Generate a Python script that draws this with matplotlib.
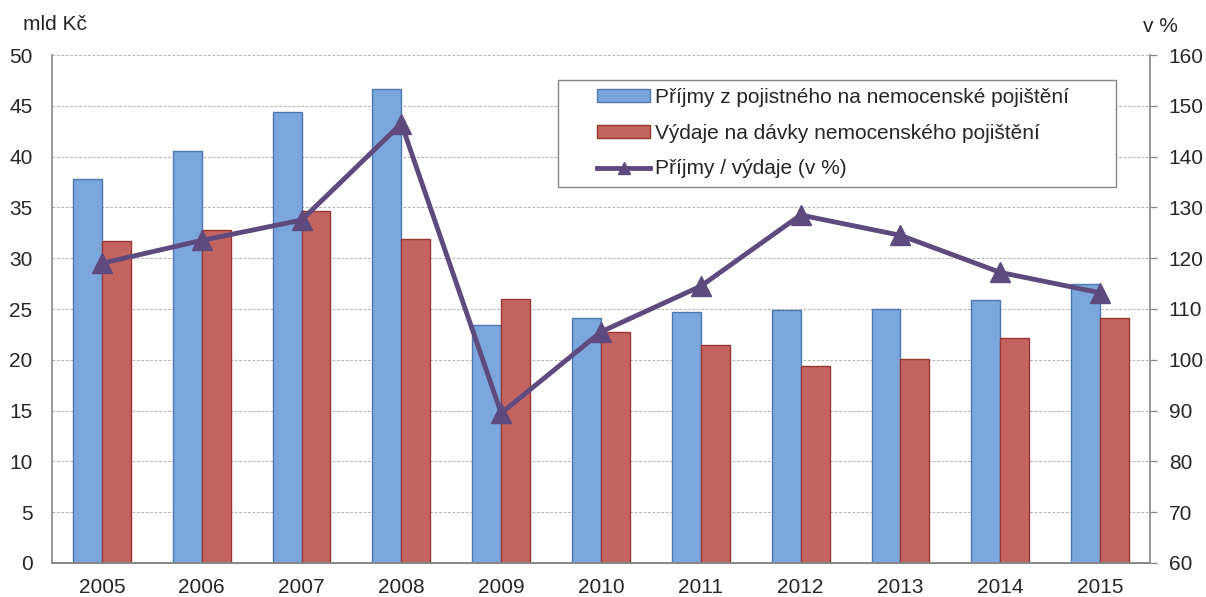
import matplotlib
matplotlib.use("Agg")
import matplotlib.pyplot as plt
from matplotlib.patches import Rectangle
import numpy as np

plt.rcParams['font.family'] = ['Liberation Sans', 'DejaVu Sans']

years = ["2005", "2006", "2007", "2008", "2009", "2010", "2011", "2012", "2013", "2014", "2015"]
prijmy = [37.8, 40.6, 44.4, 46.7, 23.4, 24.1, 24.7, 24.9, 25.0, 25.9, 27.5]
vydaje = [31.7, 32.8, 34.6, 31.9, 26.0, 22.7, 21.5, 19.4, 20.1, 22.1, 24.1]
pomer = [119.0, 123.5, 127.5, 146.5, 89.5, 105.5, 114.5, 128.5, 124.5, 117.2, 113.2]

label_p = "Příjmy z pojistného na nemocenské pojištění"
label_v = "Výdaje na dávky nemocenského pojištění"
label_r = "Příjmy / výdaje (v %)"

W, H = 1206, 597
fig = plt.figure(figsize=(W/100, H/100), dpi=100)
ax = fig.add_axes([52/W, 1-563/H, (1150-52)/W, (563-55)/H])
ax2 = ax.twinx()

x = np.arange(len(years))
w = 0.29
gray = "#868686"
txt = "#262626"
fs = 15
b1 = ax.bar(x - w/2, prijmy, w, color="#7CA7DC", edgecolor="#4C78B0", linewidth=1.0, label=label_p, zorder=2)
b2 = ax.bar(x + w/2, vydaje, w, color="#C46461", edgecolor="#9A3735", linewidth=1.0, label=label_v, zorder=2)
ln, = ax2.plot(x, pomer, color="#5F4A7F", linewidth=3.5, marker="^", markersize=15, label=label_r, zorder=3)

ax.set_xlim(-0.5, len(years) - 0.5)
ax.set_ylim(0, 50)
ax.set_yticks(np.arange(0, 51, 5))
ax2.set_ylim(60, 160)
ax2.set_yticks(np.arange(60, 161, 10))
ax.set_xticks(x)
ax.set_xticklabels(years)

ax.yaxis.grid(True, linestyle=(0, (2.5, 1.5)), color="#B8B8B8", linewidth=0.8)
ax.set_axisbelow(True)

for a in (ax, ax2):
    a.spines['top'].set_visible(False)
    for s in ('left', 'right', 'bottom'):
        a.spines[s].set_color(gray)
        a.spines[s].set_linewidth(1.2)
    a.tick_params(colors=txt, labelsize=fs, color=gray, width=0.9)
ax.tick_params(axis='x', length=0, pad=11)
ax.tick_params(axis='y', length=0, pad=14)
ax2.tick_params(axis='y', length=5, pad=8.5)
ax2.spines['left'].set_visible(False)
ax.spines['right'].set_visible(False)

fig.text(23/W, 1-25/H, "mld Kč", fontsize=fs, color=txt, va="center", ha="left")
fig.text(1143/W, 1-27/H, "v %", fontsize=fs, color=txt, va="center", ha="left")

# legend frame
fig.patches.append(Rectangle((558/W, 1-187/H), (1116-558)/W, (187-80)/H,
                             transform=fig.transFigure, facecolor="white",
                             edgecolor=gray, linewidth=1.0, zorder=5))
leg = fig.legend([b1, b2, ln], [label_p, label_v, label_r], loc="upper left",
                 bbox_to_anchor=(597/W, 1-88/H), bbox_transform=fig.transFigure,
                 fontsize=fs, frameon=False,
                 handlelength=2.55, handleheight=0.55, handletextpad=0.25,
                 borderaxespad=0, borderpad=0, labelspacing=0.8, markerscale=0.55)
leg.set_zorder(6)
for t in leg.get_texts():
    t.set_color(txt)

fig.savefig("out.png", dpi=100)
